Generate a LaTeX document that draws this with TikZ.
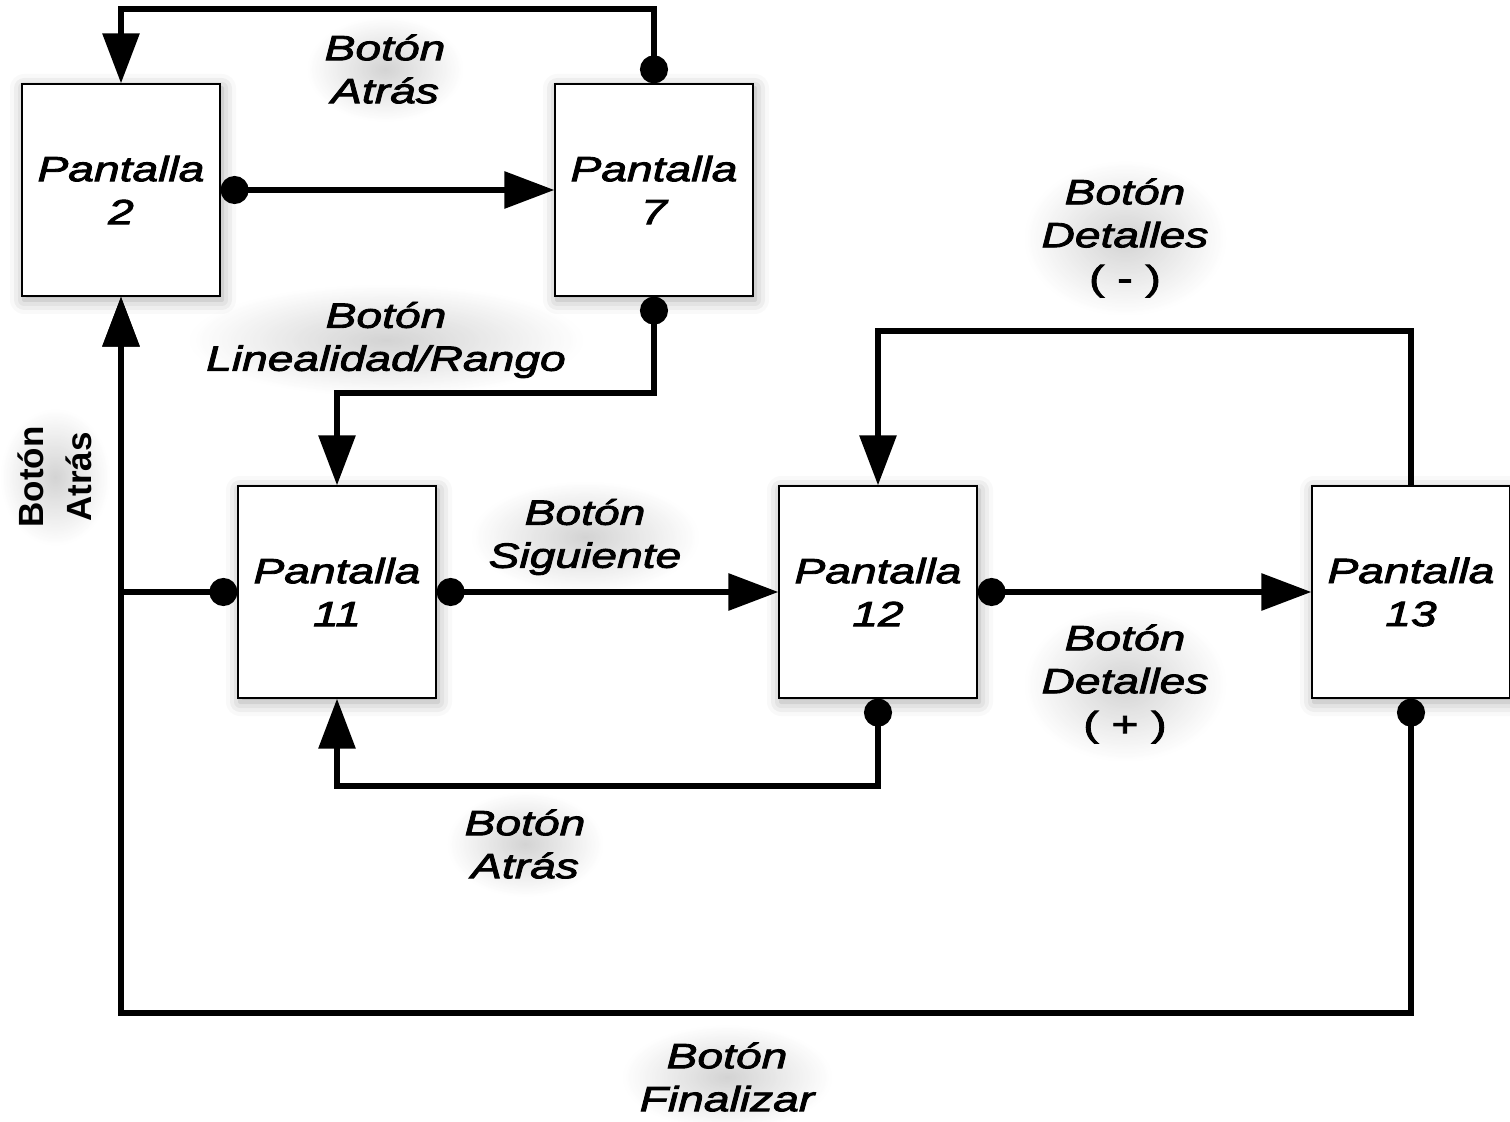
\documentclass[tikz,border=0pt]{standalone}
\usepackage{fontspec}
\newfontfamily\lblfont{Liberation Sans}[FakeStretch=1.32, FakeBold=2.5]
\newfontfamily\sidefont{Liberation Sans}
\usetikzlibrary{arrows.meta}
\usetikzlibrary{shadows.blur}
\usetikzlibrary{fadings}

\tikzfading[name=halo, inner color=transparent!30, outer color=transparent!100]

\tikzset{
  bola/.tip={Circle[length=14pt]},
  punta/.tip={Triangle[length=25pt,width=18pt]},
  pantalla/.style={draw, line width=0.6pt, fill=white,
    minimum width=99pt, minimum height=106pt, inner sep=0pt,
    align=center, font=\lblfont\itshape\fontsize{17.5}{21.5}\selectfont,
    blur shadow={shadow xshift=1pt, shadow yshift=-2pt,
      shadow blur radius=7pt, shadow opacity=35}},
  etiqueta/.style={align=center, inner sep=9pt,
    font=\lblfont\itshape\fontsize{17.5}{21.5}\selectfont,
    preaction={fill=black!70, fill opacity=.35, path fading=halo}},
  enlace/.style={line width=3pt, bola-punta},
}

\begin{document}
\begin{tikzpicture}[x=0.5pt, y=-0.5pt]
        \useasboundingbox (0,0) rectangle (1510,1122);
        % pantallas
        \node[pantalla] (p2) at (121,190) {Pantalla\\2};
        \node[pantalla] (p7) at (654,190) {Pantalla\\7};
        \node[pantalla] (p11) at (337,592) {Pantalla\\11};
        \node[pantalla] (p12) at (878,592) {Pantalla\\12};
        \node[pantalla] (p13) at (1411,592) {Pantalla\\13};
        %
        % botones
        \node[etiqueta] (atras7) at (385,69) {Botón\\Atrás};
        \node[etiqueta] (rango) at (386,340) {Botón\\Linealidad/Rango};
        \node[etiqueta] (detmenos) at (1125,238) {Botón\\Detalles\\{\upshape( - )}};
        \node[etiqueta] (siguiente) at (585,537) {Botón\\Siguiente};
        \node[etiqueta] (detmas) at (1125,684) {Botón\\Detalles\\{\upshape( + )}};
        \node[etiqueta] (atras12) at (525,844) {Botón\\Atrás};
        \node[etiqueta] (finalizar) at (727,1077) {Botón\\Finalizar};
        \node[etiqueta, rotate=90, font=\sidefont\bfseries\fontsize{17.5}{24}\selectfont]
          (atras11) at (55,477) {Botón\\Atrás};
        %
        % transiciones
        \draw[enlace] (p7.north) -- ++(0,-74) -| (p2.north);
        \draw[enlace] (p2.east) -- (p7.west);
        \draw[enlace] (p7.south) -- ++(0,96) -| (p11.north);
        \draw[enlace] (p11.west) -| (p2.south);
        \draw[enlace] (p11.east) -- (p12.west);
        \draw[enlace] (p12.east) -- (p13.west);
        \draw[enlace, -punta] (p13.north) -- ++(0,-154) -| (p12.north);
        \draw[enlace] (p12.south) -- ++(0,87) -| (p11.south);
        \draw[enlace] (p13.south) -- ++(0,314) -| (p2.south);
      \end{tikzpicture}
\end{document}
